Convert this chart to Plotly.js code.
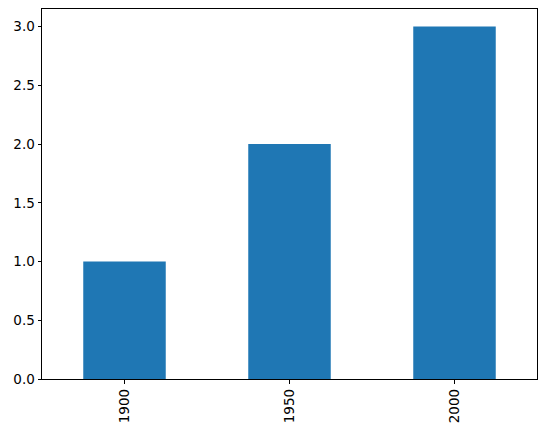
<!DOCTYPE html>
<html>
<head>
<meta charset="utf-8">
<script src="https://cdn.plot.ly/plotly-3.0.1.min.js"></script>
<style>
  html, body { margin: 0; padding: 0; background: #fff; }
  #chart { width: 547px; height: 434px; }
</style>
</head>
<body>
<div id="chart"></div>
<script>
// datos del gráfico
var years = ['1900', '1950', '2000'];
var values = [1, 2, 3];

var trace = {
    x: years,
    y: values,
    type: 'bar',
    marker: { color: '#1f77b4' },
    hoverinfo: 'none'
};

function axisStyle() {
    return {
        showline: true,
        linecolor: '#000',
        linewidth: 1,
        mirror: true,
        ticks: 'outside',
        ticklen: 3.5,
        tickwidth: 1,
        tickcolor: '#000',
        showgrid: false,
        zeroline: false,
        tickfont: { family: 'DejaVu Sans', size: 13.5, color: '#000' }
    };
}

var xaxis = axisStyle();
xaxis.type = 'category';
xaxis.tickangle = -90;
xaxis.range = [-0.5, 2.5];

var yaxis = axisStyle();
yaxis.range = [0, 3.15];
yaxis.tickmode = 'linear';
yaxis.tick0 = 0;
yaxis.dtick = 0.5;
yaxis.tickformat = '.1f';

var layout = {
    width: 547,
    height: 434,
    margin: { l: 42, r: 10, t: 9, b: 55 },
    bargap: 0.5,
    showlegend: false,
    paper_bgcolor: '#fff',
    plot_bgcolor: '#fff',
    xaxis: xaxis,
    yaxis: yaxis
};

Plotly.newPlot('chart', [trace], layout, { displayModeBar: false, staticPlot: true });
</script>
</body>
</html>
